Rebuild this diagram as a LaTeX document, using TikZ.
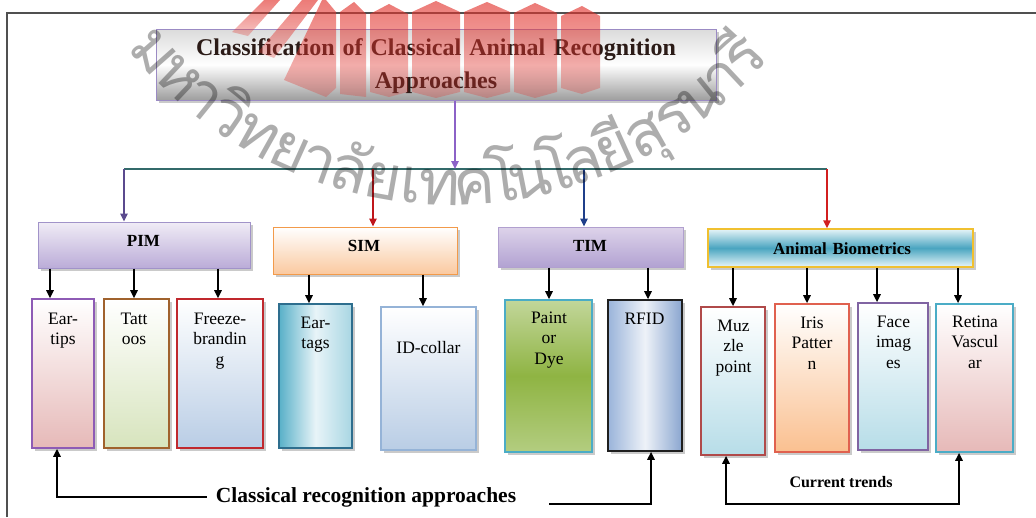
\documentclass[tikz,border=0pt]{standalone}
\usepackage{fontspec}
\setmainfont{Liberation Serif}
\newfontfamily\thaifont[Script=Thai]{Loma}
\usetikzlibrary{arrows.meta,shadows,fadings}

% frame and connector colours
\definecolor{framecol}{HTML}{505050}
\definecolor{buscol}{HTML}{336A6A}
\definecolor{topline}{HTML}{8C62C7}
\definecolor{pimline}{HTML}{5B4A8E}
\definecolor{simline}{HTML}{C0161B}
\definecolor{timline}{HTML}{1F3F8A}
\definecolor{abline}{HTML}{D21F1F}
\definecolor{titletxt}{HTML}{2B1B17}
\definecolor{logored}{HTML}{E2352F}
% box borders and fills
\definecolor{titleedge}{HTML}{9B8BC4}
\definecolor{pimedge}{HTML}{A193C9}
\definecolor{pimtop}{HTML}{F0ECF6}
\definecolor{pimbot}{HTML}{BBACD8}
\definecolor{simedge}{HTML}{F29A4A}
\definecolor{simbot}{HTML}{FAC9A0}
\definecolor{timedge}{HTML}{B1A0CF}
\definecolor{timtop}{HTML}{DDD3EA}
\definecolor{timbot}{HTML}{B2A2D2}
\definecolor{abedge}{HTML}{F0C030}
\definecolor{abtop}{HTML}{E6F4F8}
\definecolor{abmid}{HTML}{4AA5C0}
\definecolor{abbot}{HTML}{E9F6F9}
\definecolor{purpleedge}{HTML}{8E5BB5}
\definecolor{pinkfill}{HTML}{E6B9B8}
\definecolor{brownedge}{HTML}{A0622D}
\definecolor{greenfill}{HTML}{D7E4BD}
\definecolor{rededge}{HTML}{C0282D}
\definecolor{bluefill}{HTML}{B9CDE5}
\definecolor{tealedge}{HTML}{2E6E8E}
\definecolor{tealleft}{HTML}{58B0C8}
\definecolor{tealmid}{HTML}{E8F4F8}
\definecolor{tealright}{HTML}{A8D6E3}
\definecolor{lightblueedge}{HTML}{95B3D7}
\definecolor{cyanedge}{HTML}{4BACC6}
\definecolor{painttop}{HTML}{C2D69A}
\definecolor{paintmid}{HTML}{8FB443}
\definecolor{paintbot}{HTML}{B3CD80}
\definecolor{darkedge}{HTML}{1F1F1F}
\definecolor{rfidleft}{HTML}{9AB4DA}
\definecolor{rfidmid}{HTML}{EEF2F8}
\definecolor{rfidright}{HTML}{8AA6D0}
\definecolor{muzzleedge}{HTML}{B04A4A}
\definecolor{aquafill}{HTML}{B7DDE8}
\definecolor{salmonedge}{HTML}{E0614F}
\definecolor{peachfill}{HTML}{FAC090}
\definecolor{violetedge}{HTML}{8064A2}

\tikzfading[name=logofade, top color=transparent!35, bottom color=transparent!72]

\newcommand\titlefont{\bfseries\fontsize{24}{33}\selectfont}
\newcommand\headfont{\bfseries\fontsize{17}{20}\selectfont}
\newcommand\leaffont{\fontsize{17.5}{20.5}\selectfont}

\begin{document}
\begin{tikzpicture}[x=1pt,y=-1pt,
  box/.style={draw, rectangle, inner sep=0pt,
    drop shadow={shadow xshift=2.5pt, shadow yshift=-2.5pt, opacity=.35, fill=black!60}},
  headbox/.style={box, line width=1pt},
  leafbox/.style={box, line width=1.8pt},
  lbl/.style={anchor=base, inner sep=0pt, align=center, text width=90pt},
  arr/.style={line width=1.5pt, -{Triangle[length=8pt,width=7.5pt]}},
  arrboth/.style={line width=1.5pt, {Triangle[length=8pt,width=7.5pt]}-{Triangle[length=8pt,width=7.5pt]}},
  logo/.style={fill=logored, path fading=logofade},
  wm/.style={anchor=base, inner sep=0pt, text=black, opacity=.32,
    font=\thaifont\fontsize{63}{63}\selectfont}
]
\useasboundingbox (0,0) rectangle (1036,517);

% page frame
\draw[framecol, line width=1.3pt] (7,517) -- (7,13) -- (1036,13);

% ---- title ----
\node[headbox, draw=titleedge, top color=black!14, bottom color=black!38, middle color=white,
      minimum width=560pt, minimum height=71pt] (title) at (436,64.5) {};
\node[lbl, text width=540pt, font=\titlefont, text=titletxt] (titletext) at (436,55)
  {Classification of Classical Animal Recognition\\Approaches};

% ---- second level ----
\node[headbox, draw=pimedge, top color=pimtop, bottom color=pimbot,
      minimum width=212pt, minimum height=46pt] (pim) at (144,245) {};
\node[lbl, font=\headfont] (pimtext) at (143.5,246) {PIM};

\node[headbox, draw=simedge, top color=white, bottom color=simbot,
      minimum width=184pt, minimum height=47pt] (sim) at (365,250.5) {};
\node[lbl, font=\headfont] (simtext) at (364,251) {SIM};

\node[headbox, draw=timedge, top color=timtop, bottom color=timbot,
      minimum width=185pt, minimum height=40pt] (tim) at (590.5,247) {};
\node[lbl, font=\headfont] (timtext) at (590,251) {TIM};

\node[headbox, line width=1.5pt, draw=abedge, top color=abtop, bottom color=abbot,
      middle color=abmid, minimum width=265pt, minimum height=38pt] (ab) at (840.5,248) {};
\node[lbl, text width=200pt, font=\headfont] (abtext) at (842,254) {Animal Biometrics};

% ---- leaves ----
\node[leafbox, draw=purpleedge, top color=white, bottom color=pinkfill,
      minimum width=62pt, minimum height=149pt] (eartips) at (63,373.5) {};
\node[lbl, font=\leaffont] (eartipstext) at (63,324) {Ear-\\tips};

\node[leafbox, draw=brownedge, top color=white, bottom color=greenfill,
      minimum width=65pt, minimum height=149pt] (tattoos) at (136.5,373.5) {};
\node[lbl, font=\leaffont] (tattoostext) at (134,324) {Tatt\\oos};

\node[leafbox, draw=rededge, top color=white, bottom color=bluefill,
      minimum width=86pt, minimum height=149pt] (freeze) at (220,373.5) {};
\node[lbl, font=\leaffont] (freezetext) at (220,324) {Freeze-\\brandin\\g};

\node[leafbox, draw=tealedge, left color=tealleft, right color=tealright, middle color=tealmid,
      minimum width=73pt, minimum height=144pt] (eartags) at (315.5,376) {};
\node[lbl, font=\leaffont] (eartagstext) at (315.5,328) {Ear-\\tags};

\node[leafbox, draw=lightblueedge, top color=white, bottom color=bluefill,
      minimum width=95pt, minimum height=143pt] (idcollar) at (428.5,378.5) {};
\node[lbl, font=\leaffont] (idcollartext) at (428.5,353) {ID-collar};

\node[leafbox, draw=cyanedge, top color=painttop, bottom color=paintbot, middle color=paintmid,
      minimum width=87pt, minimum height=152pt] (paint) at (548.5,376) {};
\node[lbl, font=\leaffont] (painttext) at (549,323) {Paint\\or\\Dye};

\node[leafbox, draw=darkedge, left color=rfidleft, right color=rfidright, middle color=rfidmid,
      minimum width=74pt, minimum height=151pt] (rfid) at (645,375.5) {};
\node[lbl, font=\leaffont] (rfidtext) at (644.5,324) {RFID};

\node[leafbox, draw=muzzleedge, top color=white, bottom color=aquafill,
      minimum width=64pt, minimum height=148pt] (muzzle) at (733,381) {};
\node[lbl, font=\leaffont] (muzzletext) at (733.5,331) {Muz\\zle\\point};

\node[leafbox, draw=salmonedge, top color=white, bottom color=peachfill,
      minimum width=74pt, minimum height=148pt] (iris) at (812,378) {};
\node[lbl, font=\leaffont] (iristext) at (812,328) {Iris\\Patter\\n};

\node[leafbox, draw=violetedge, top color=white, bottom color=aquafill,
      minimum width=70pt, minimum height=147pt] (face) at (893,376.5) {};
\node[lbl, font=\leaffont] (facetext) at (893.5,327) {Face\\imag\\es};

\node[leafbox, draw=cyanedge, top color=white, bottom color=pinkfill,
      minimum width=77pt, minimum height=148pt] (retina) at (974.5,378) {};
\node[lbl, font=\leaffont] (retinatext) at (975,327) {Retina\\Vascul\\ar};

% ---- bottom captions ----
\node[anchor=base, inner sep=0pt, font=\bfseries\fontsize{21.5}{24}\selectfont] (cra) at (366,502)
  {Classical recognition approaches};
\node[anchor=base, inner sep=0pt, font=\bfseries\fontsize{16}{19}\selectfont] (ct) at (841,487)
  {Current trends};

% ---- bus and branch arrows ----
\coordinate (busL) at (124,169);
\coordinate (busS) at (373,169);
\coordinate (busT) at (455,169);
\coordinate (busM) at (584,169);
\coordinate (busR) at (827,169);
\draw[buscol, line width=2pt] (busL) -- (busR);
\draw[arr, color=topline] (title.south -| busT) -- (busT);
\draw[arr, color=pimline] (busL) -- (busL |- pim.north);
\draw[arr, color=simline] (busS) -- (busS |- sim.north);
\draw[arr, color=timline] (busM) -- (busM |- tim.north);
\draw[arr, color=abline] (busR) -- (busR |- ab.north);

% ---- leaf arrows ----
\coordinate (k1) at (50,0);   \coordinate (k2) at (134,0);  \coordinate (k3) at (218,0);
\coordinate (k4) at (309,0);  \coordinate (k5) at (423,0);
\coordinate (k6) at (549,0);  \coordinate (k7) at (648,0);
\coordinate (k8) at (733,0);  \coordinate (k9) at (807,0);  \coordinate (k10) at (877,0);
\coordinate (k11) at (958,0);
\draw[arr] (pim.south -| k1) -- (eartips.north -| k1);
\draw[arr] (pim.south -| k2) -- (tattoos.north -| k2);
\draw[arr] (pim.south -| k3) -- (freeze.north -| k3);
\draw[arr] (sim.south -| k4) -- (eartags.north -| k4);
\draw[arr] (sim.south -| k5) -- (idcollar.north -| k5);
\draw[arr] (tim.south -| k6) -- (paint.north -| k6);
\draw[arr] (tim.south -| k7) -- (rfid.north -| k7);
\draw[arr] (ab.south -| k8) -- (muzzle.north -| k8);
\draw[arr] (ab.south -| k9) -- (iris.north -| k9);
\draw[arr] (ab.south -| k10) -- (face.north -| k10);
\draw[arr] (ab.south -| k11) -- (retina.north -| k11);

% ---- bottom brackets ----
\coordinate (clL) at (57,0);
\coordinate (craR) at (549,504);
\coordinate (rfX) at (651,0);
\draw[arr] ([xshift=-9pt]cra.west) -| (eartips.south -| clL);
\draw[arr] (craR) -| (rfid.south -| rfX);
\coordinate (ctL) at (726,504);
\coordinate (ctR) at (959,504);
\draw[arrboth] (muzzle.south -| ctL) -- (ctL) -- (ctR) -- (retina.south -| ctR);

% ---- watermark: emblem ----
\fill[logo] (232,32) -- (248,36) -- (280,0) -- (264,0) -- cycle;
\fill[logo] (258,52) -- (274,58) -- (318,0) -- (302,0) -- cycle;
\fill[logo] (284,80) -- (326,97) -- (336,88) -- (336,12) -- (326,0) -- (322,0) -- cycle;
\fill[logo] (340,94) -- (366,97) -- (366,14) -- (354,2) -- (340,12) -- cycle;
\fill[logo] (370,14) -- (389,4) -- (408,14) -- (408,92) -- (389,97) -- (370,92) -- cycle;
\fill[logo] (412,12) -- (436,1) -- (460,12) -- (460,92) -- (436,98) -- (412,92) -- cycle;
\fill[logo] (464,12) -- (487,2) -- (510,12) -- (510,92) -- (487,98) -- (464,92) -- cycle;
\fill[logo] (514,13) -- (535,3) -- (557,13) -- (557,92) -- (535,98) -- (514,92) -- cycle;
\fill[logo] (561,16) -- (582,6) -- (600,16) -- (600,88) -- (582,94) -- (561,88) -- cycle;

% ---- watermark: university name along an arc ----
\coordinate (wmc) at (452,-210);
\begin{scope}[shift={(wmc)}]
  \foreach \ch/\ang [count=\k] in {ม/-138.6,ห/-133.5,า/-129.0,วิ/-124.4,ท/-119.3,ย/-114.2,า/-109.7,ลั/-105.1,ย/-100.1,เ/-95.9,ท/-91.8,ค/-86.7,โ/-82.6,น/-78.6,โ/-74.6,ล/-70.6,ยี/-65.7,สุ/-60.7,ร/-55.9,น/-51.2,า/-46.8,รี/-42.4}
    \node[wm, rotate=\ang+90] (wm\k) at (\ang:415pt) {\ch};
\end{scope}
\end{tikzpicture}
\end{document}
